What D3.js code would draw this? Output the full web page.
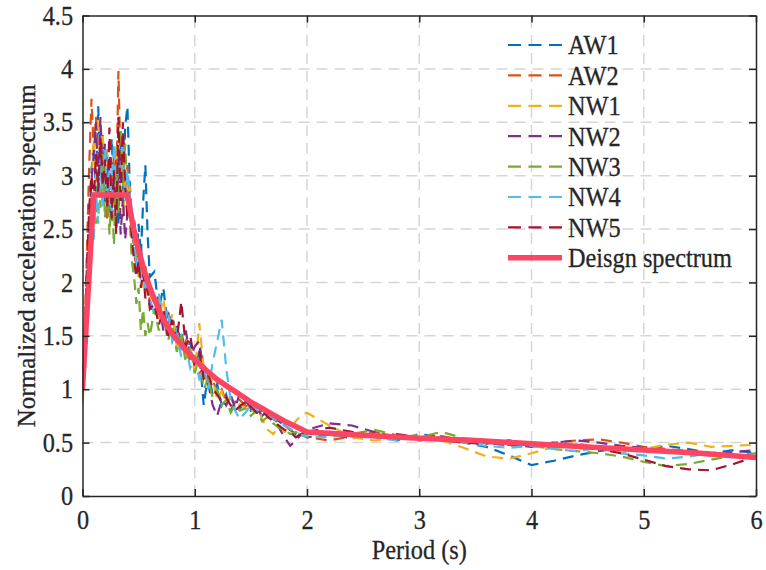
<!DOCTYPE html>
<html>
<head>
<meta charset="utf-8">
<script src="https://cdn.jsdelivr.net/npm/d3@7"></script>
<style>
  body { margin: 0; background: #fff; }
  text { font-family: "Liberation Serif", "Times New Roman", serif; fill: #262626; stroke: #262626; stroke-width: 0.3px; }
</style>
</head>
<body>
<script>
// period axis shared by all ground motion records (s)
const periods = [
  0, 0.02, 0.04, 0.06, 0.08, 0.10, 0.12, 0.14, 0.16, 0.18, 0.20, 0.22, 0.24, 0.26, 0.28, 0.30,
  0.32, 0.34, 0.36, 0.38, 0.40, 0.42, 0.44, 0.46, 0.48, 0.50, 0.52, 0.54, 0.56, 0.58, 0.60,
  0.64, 0.68, 0.72, 0.76, 0.80, 0.84, 0.88, 0.92, 0.96, 1.00, 1.04, 1.08, 1.12, 1.16, 1.20,
  1.24, 1.28, 1.32, 1.36, 1.40,
  1.45, 1.50, 1.55, 1.60, 1.65, 1.70, 1.75, 1.80, 1.85, 1.90, 1.95, 2.00,
  2.2, 2.4, 2.6, 2.8, 3.0, 3.2, 3.4, 3.6, 3.8, 4.0, 4.2, 4.4, 4.6, 4.8, 5.0, 5.2, 5.4, 5.6, 5.8, 6.0
];

const aw1 = [
  1.00, 1.50, 2.10, 2.60, 3.05, 3.30, 2.85, 3.65, 3.05, 3.40, 2.75, 3.20, 2.65, 3.35, 2.85, 3.15,
  2.55, 3.30, 2.85, 3.45, 3.65, 2.95, 2.60, 2.35, 2.15, 2.55, 2.25, 2.75, 3.10, 2.45, 2.05,
  2.10, 1.75, 1.95, 1.60, 1.70, 1.45, 1.55, 1.30, 1.45, 1.20, 1.35, 0.85, 1.15, 0.95, 1.05,
  0.85, 0.95, 0.80, 0.88, 0.82,
  0.88, 0.80, 0.84, 0.75, 0.80, 0.72, 0.70, 0.66, 0.62, 0.58, 0.60, 0.55,
  0.58, 0.54, 0.57, 0.52, 0.58, 0.55, 0.50, 0.46, 0.38, 0.29, 0.33, 0.38, 0.42, 0.45, 0.43, 0.47, 0.44, 0.40, 0.43, 0.40
];
const aw2 = [
  0.95, 1.60, 2.30, 3.10, 3.72, 3.25, 3.55, 2.90, 3.30, 2.75, 3.10, 2.60, 3.00, 2.80, 3.20, 2.75,
  3.98, 3.05, 3.35, 2.85, 3.10, 2.70, 2.50, 2.30, 2.10, 2.30, 2.05, 2.20, 1.95, 2.05, 1.80,
  1.75, 1.85, 1.60, 1.70, 1.45, 1.55, 1.35, 1.45, 1.25, 1.30, 1.15, 1.20, 1.05, 1.10, 0.95,
  1.00, 0.88, 0.92, 0.85, 0.90,
  0.85, 0.82, 0.78, 0.80, 0.74, 0.72, 0.68, 0.66, 0.62, 0.60, 0.57, 0.55,
  0.52, 0.56, 0.60, 0.55, 0.53, 0.56, 0.52, 0.50, 0.47, 0.48, 0.50, 0.52, 0.53, 0.50, 0.46, 0.44, 0.42, 0.40, 0.38, 0.37
];
const nw1 = [
  0.85, 1.20, 1.80, 2.40, 2.90, 3.35, 2.95, 3.55, 3.05, 3.40, 2.85, 3.25, 2.70, 3.10, 2.80, 3.30,
  2.75, 3.05, 2.60, 2.95, 2.70, 2.90, 2.55, 2.40, 2.20, 2.05, 2.25, 1.95, 2.10, 1.85, 1.90,
  1.80, 1.65, 1.85, 1.55, 1.70, 1.40, 1.50, 1.30, 1.40, 1.15, 1.62, 1.20, 1.00, 1.10, 0.90,
  0.98, 0.85, 0.95, 0.80, 0.86,
  0.82, 0.78, 0.86, 0.72, 0.62, 0.58, 0.66, 0.60, 0.64, 0.70, 0.76, 0.78,
  0.66, 0.55, 0.52, 0.55, 0.57, 0.52, 0.45, 0.37, 0.35, 0.40, 0.46, 0.50, 0.45, 0.40, 0.44, 0.48, 0.50, 0.46, 0.47, 0.48
];
const nw2 = [
  0.95, 1.40, 2.00, 2.55, 2.95, 3.20, 3.50, 2.90, 3.55, 3.00, 3.30, 2.70, 3.10, 2.55, 2.95, 2.50,
  3.20, 2.45, 2.80, 2.40, 2.65, 2.85, 2.45, 2.60, 2.30, 2.15, 2.35, 2.05, 2.15, 1.90, 1.80,
  1.70, 1.85, 1.55, 1.75, 1.50, 1.60, 1.40, 1.55, 1.30, 1.40, 1.45, 1.15, 1.05, 0.85, 0.75,
  0.90, 0.85, 0.95, 0.82, 0.96,
  0.90, 0.82, 0.86, 0.74, 0.78, 0.70, 0.64, 0.55, 0.47, 0.52, 0.58, 0.62,
  0.68, 0.66, 0.60, 0.55, 0.52, 0.55, 0.53, 0.50, 0.48, 0.46, 0.50, 0.52, 0.50, 0.47, 0.45, 0.42, 0.40, 0.38, 0.41, 0.43
];
const nw3 = [
  0.90, 1.20, 1.65, 2.05, 2.50, 2.85, 2.55, 3.05, 2.70, 3.20, 2.60, 3.00, 2.45, 2.85, 2.35, 3.10,
  2.65, 3.45, 2.90, 3.30, 2.80, 2.60, 2.20, 2.05, 1.80, 1.95, 1.55, 1.75, 1.50, 1.62, 1.50,
  1.75, 1.55, 1.70, 1.45, 1.60, 1.35, 1.50, 1.25, 1.40, 1.15, 1.30, 1.00, 1.10, 0.92, 1.00,
  0.85, 0.90, 0.78, 0.86, 0.80,
  0.82, 0.75, 0.80, 0.70, 0.74, 0.68, 0.64, 0.62, 0.58, 0.60, 0.56, 0.58,
  0.60, 0.58, 0.62, 0.57, 0.55, 0.60, 0.54, 0.52, 0.50, 0.47, 0.44, 0.42, 0.40, 0.37, 0.32, 0.28, 0.30, 0.34, 0.38, 0.40
];
const nw4 = [
  0.95, 1.30, 1.75, 2.20, 2.60, 2.40, 2.85, 2.55, 3.15, 2.70, 3.25, 2.85, 3.05, 2.65, 3.30, 2.80,
  3.10, 2.95, 3.40, 2.75, 3.05, 2.85, 2.50, 2.35, 2.15, 2.30, 2.00, 2.20, 1.90, 2.05, 1.85,
  1.70, 1.90, 1.60, 1.75, 1.45, 1.55, 1.30, 1.40, 1.20, 1.30, 1.10, 1.20, 1.00, 1.25, 1.45,
  1.65, 1.20, 0.90, 0.80, 0.72,
  0.78, 0.85, 0.80, 0.82, 0.76, 0.72, 0.70, 0.66, 0.63, 0.60, 0.57, 0.56,
  0.55, 0.58, 0.55, 0.52, 0.56, 0.54, 0.50, 0.47, 0.45, 0.47, 0.44, 0.42, 0.45, 0.40, 0.38, 0.35, 0.37, 0.40, 0.37, 0.38
];
const nw5 = [
  1.00, 1.50, 2.15, 2.70, 3.00, 2.75, 3.20, 2.85, 3.35, 2.90, 3.15, 2.70, 3.45, 2.60, 3.05, 2.45,
  3.55, 2.75, 3.50, 2.90, 2.60, 2.75, 2.40, 2.20, 2.05, 2.20, 1.95, 2.10, 1.85, 1.95, 1.75,
  1.80, 1.60, 1.75, 1.50, 1.65, 1.45, 1.82, 1.40, 1.50, 1.25, 1.35, 1.10, 1.15, 1.00, 0.95,
  0.88, 0.92, 0.85, 0.80, 0.84,
  0.88, 0.84, 0.78, 0.80, 0.74, 0.70, 0.66, 0.62, 0.60, 0.55, 0.58, 0.60,
  0.64, 0.60, 0.56, 0.58, 0.55, 0.52, 0.50, 0.49, 0.52, 0.48, 0.46, 0.48, 0.44, 0.40, 0.34, 0.28, 0.25, 0.24, 0.30, 0.37
];

// design spectrum
const designT  = [0, 0.1, 0.4, 0.45, 0.5, 0.55, 0.6, 0.65, 0.7, 0.75, 0.8, 0.9, 1.0, 1.1, 1.2, 1.3, 1.4, 1.5, 1.6, 1.7, 1.8, 1.9, 2.0,
                  2.5, 3.0, 3.5, 4.0, 4.5, 5.0, 5.5, 6.0];
const designSa = [1.0, 2.82, 2.82, 2.53, 2.30, 2.11, 1.95, 1.82, 1.70, 1.60, 1.52, 1.39, 1.28, 1.18, 1.09, 1.02, 0.95, 0.88, 0.82, 0.76, 0.70, 0.65, 0.60,
                  0.57, 0.54, 0.52, 0.49, 0.46, 0.43, 0.40, 0.36];

const names  = ["AW1", "AW2", "NW1", "NW2", "NW3", "NW4", "NW5"];
const values = [aw1, aw2, nw1, nw2, nw3, nw4, nw5];
const colors = ["#0072BD", "#D95319", "#EDB120", "#7E2F8E", "#77AC30", "#4DBEEE", "#A2142F"];
const designName = "Deisgn spectrum";
const designColor = "#fb4562";

const xTicks = [0, 1, 2, 3, 4, 5, 6];
const yTicks = [0, 0.5, 1, 1.5, 2, 2.5, 3, 3.5, 4, 4.5];

const width = 766, height = 570;
const margin = {top: 15.5, right: 10, bottom: 74, left: 82.5};
const fontSize = 27, squeeze = 0.9; // the source image is a bit narrow

const svg = d3.select("body").append("svg")
    .attr("width", width)
    .attr("height", height);

const x = d3.scaleLinear().domain([0, 6]).range([margin.left, width - margin.right]);
const y = d3.scaleLinear().domain([0, 4.5]).range([height - margin.bottom, margin.top]);

svg.append("defs").append("clipPath").attr("id", "plot")
  .append("rect")
    .attr("x", x(0)).attr("y", y(4.5))
    .attr("width", x(6) - x(0)).attr("height", y(0) - y(4.5));

// grid
const grid = svg.append("g")
    .attr("stroke", "#d6d6d6")
    .attr("stroke-width", 1.5)
    .attr("stroke-dasharray", "11,7");
grid.selectAll(".gx").data(xTicks.slice(1, -1)).join("line")
    .attr("x1", d => x(d)).attr("x2", d => x(d))
    .attr("y1", y(0)).attr("y2", y(4.5));
grid.selectAll(".gy").data(yTicks.slice(1, -1)).join("line")
    .attr("y1", d => y(d)).attr("y2", d => y(d))
    .attr("x1", x(0)).attr("x2", x(6));

const line = d3.line()
    .x((d, i) => x(periods[i]))
    .y(d => y(d));

svg.append("g")
    .attr("clip-path", "url(#plot)")
  .selectAll("path")
  .data(values)
  .join("path")
    .attr("fill", "none")
    .attr("stroke", (d, i) => colors[i])
    .attr("stroke-width", 2.2)
    .attr("stroke-dasharray", "11,7")
    .attr("d", line);

const designLine = d3.line()
    .x((d, i) => x(designT[i]))
    .y(d => y(d));

svg.append("path")
    .datum(designSa)
    .attr("clip-path", "url(#plot)")
    .attr("fill", "none")
    .attr("stroke", designColor)
    .attr("stroke-width", 5.5)
    .attr("stroke-linejoin", "round")
    .attr("d", designLine);

// axes, MATLAB-style box with inward ticks
const tickLen = 7;
const axisColor = "#262626";
const xAxis = svg.append("g")
    .attr("transform", `translate(0,${y(0)})`)
    .call(d3.axisBottom(x).tickValues(xTicks).tickSizeInner(-tickLen).tickSizeOuter(0).tickPadding(14)
      .tickFormat(d3.format("")));
const xTop = svg.append("g")
    .attr("transform", `translate(0,${y(4.5)})`)
    .call(d3.axisTop(x).tickValues(xTicks).tickSizeInner(-tickLen).tickSizeOuter(0).tickFormat(""));
const yAxis = svg.append("g")
    .attr("transform", `translate(${x(0)},0)`)
    .call(d3.axisLeft(y).tickValues(yTicks).tickSizeInner(-tickLen).tickSizeOuter(0).tickPadding(10.5)
      .tickFormat(d3.format("")));
const yRight = svg.append("g")
    .attr("transform", `translate(${x(6)},0)`)
    .call(d3.axisRight(y).tickValues(yTicks).tickSizeInner(-tickLen).tickSizeOuter(0).tickFormat(""));

[xAxis, xTop, yAxis, yRight].forEach(g => {
  g.select(".domain").attr("stroke", axisColor).attr("stroke-width", 1.5);
  g.selectAll(".tick line").attr("stroke", axisColor).attr("stroke-width", 1.5);
  g.selectAll(".tick text")
      .attr("fill", axisColor)
      .attr("transform", `scale(${squeeze},1)`)
      .style("font-family", "'Liberation Serif', serif")
      .style("font-size", fontSize + "px");
});

svg.append("text")
    .attr("transform", `translate(${(x(0) + x(6)) / 2},559) scale(${squeeze},1)`)
    .attr("text-anchor", "middle")
    .style("font-size", fontSize + "px")
    .text("Period (s)");

svg.append("text")
    .attr("transform", `translate(35,${(y(0) + y(4.5)) / 2}) rotate(-90)`)
    .attr("text-anchor", "middle")
    .style("font-size", "25px")
    .text("Normalized acceleration spectrum");

// legend
const legendItems = names.map((n, i) => ({name: n, color: colors[i], design: false}))
    .concat([{name: designName, color: designColor, design: true}]);
const legend = svg.append("g").attr("transform", "translate(508,45)");
const row = legend.selectAll("g").data(legendItems).join("g")
    .attr("transform", (d, i) => `translate(0,${i * 30.4})`);
row.append("line")
    .attr("x1", 0).attr("x2", 54)
    .attr("stroke", d => d.color)
    .attr("stroke-width", d => d.design ? 5.5 : 2.2)
    .attr("stroke-dasharray", d => d.design ? null : "13,7.5");
row.append("text")
    .attr("transform", `translate(60,0) scale(${squeeze},1)`)
    .attr("dy", "0.35em")
    .style("font-size", fontSize + "px")
    .text(d => d.name);
</script>
</body>
</html>
